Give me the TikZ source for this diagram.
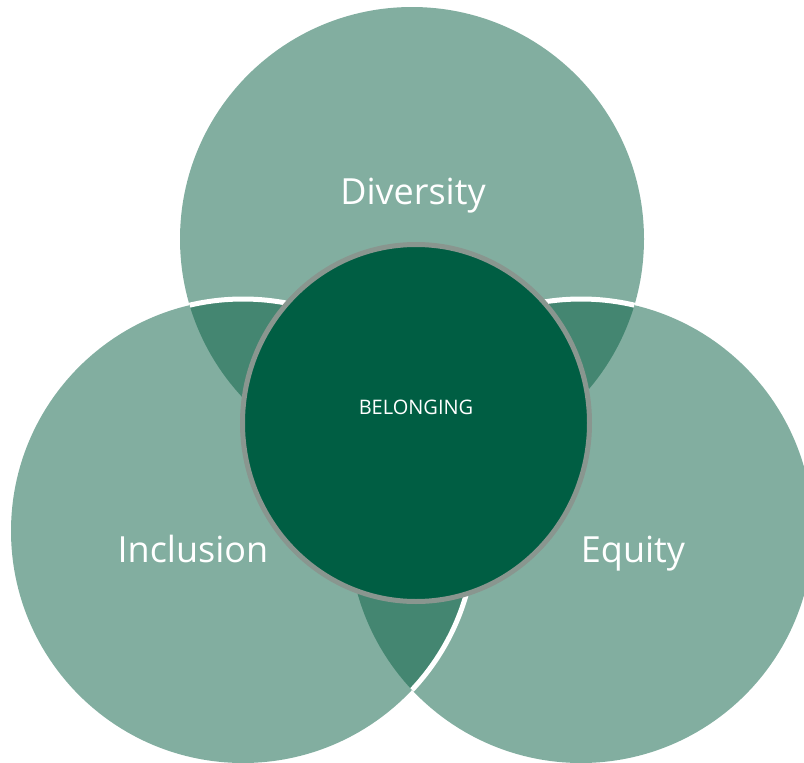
\documentclass[tikz,border=0pt]{standalone}
\usepackage{fontspec}
\setmainfont{Open Sans}

\definecolor{ringgreen}{RGB}{8,95,67}
\definecolor{coregreen}{RGB}{0,94,67}
\definecolor{coregrey}{RGB}{137,150,143}

\begin{document}
\begin{tikzpicture}[
    x=1pt,y=-1pt,
    ring/.style={fill=ringgreen,fill opacity=0.506},
    rim/.style={draw=white,line width=5pt},
    core/.style={fill=coregreen,draw=coregrey,line width=5pt},
    bigtext/.style={text=white,anchor=base,inner sep=0pt,font=\fontsize{36}{43}\selectfont},
    smalltext/.style={text=white,anchor=base,inner sep=0pt,font=\fontsize{20}{24}\selectfont}
]

\def \R {232pt}; % radius of the three outer circles

% Page frame
\useasboundingbox (0,0) rectangle (804,763);
\clip (0,0) rectangle (804,763);

% Centres of the circles
\coordinate (div) at (412,239);
\coordinate (inc) at (243,531);
\coordinate (equ) at (581,531);
\coordinate (belong) at (416,423);

% Translucent outer circles, overlaps get darker
\fill[ring] (div) circle[radius=\R];
\fill[ring] (equ) circle[radius=\R];
\fill[ring] (inc) circle[radius=\R];

% White rims, only where they cross another circle
\begin{scope}
    \clip (div) circle[radius=\R];
    \draw[rim] (inc) circle[radius=\R];
    \draw[rim] (equ) circle[radius=\R];
\end{scope}
\begin{scope}
    \clip (equ) circle[radius=\R];
    \draw[rim] (inc) circle[radius=\R];
\end{scope}

% Centre disc
\filldraw[core] (belong) ellipse[x radius=173.5pt,y radius=178.5pt];

% Labels
\node[bigtext] (divlabel) at (413,204) {Diversity};
\node[bigtext] (inclabel) at (193,562) {Inclusion};
\node[bigtext] (equlabel) at (633,562) {Equity};
\node[smalltext] (belonglabel) at (416,414.5) {BELONGING};

\end{tikzpicture}
\end{document}
